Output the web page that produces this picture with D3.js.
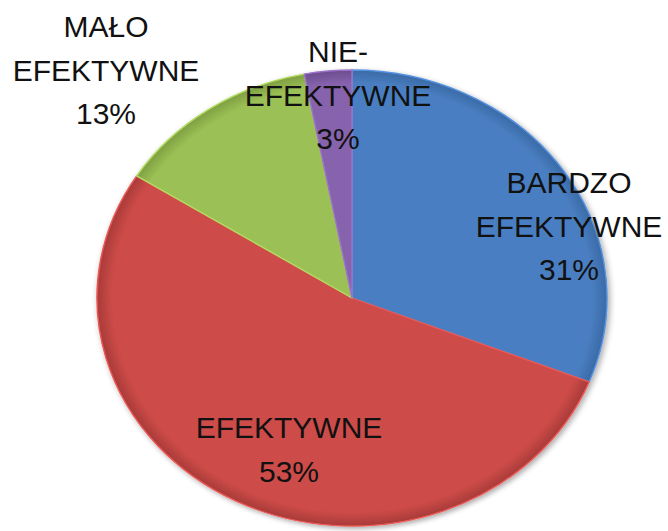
<!DOCTYPE html>
<html>
<head>
<meta charset="utf-8">
<script src="https://cdn.jsdelivr.net/npm/d3@7"></script>
<style>
    body { margin: 0; background: #fff; }
    svg { display: block; }
</style>
</head>
<body>
<div class="canvas"></div>
<script>
// DATA
const categories = ['BARDZO EFEKTYWNE', 'EFEKTYWNE', 'MAŁO EFEKTYWNE', 'NIE-EFEKTYWNE'];
const values = [31, 53, 13, 3];
const labelLines = [['BARDZO', 'EFEKTYWNE', '31%'], ['EFEKTYWNE', '53%'], ['MAŁO', 'EFEKTYWNE', '13%'], ['NIE-', 'EFEKTYWNE', '3%']];

// layout
const width = 668, height = 531;
const cx = 352, cy = 298;
const rx = 255, ry = 228;
const colors = ['#4a7fc2', '#cd4b48', '#9bc054', '#8763ad'];
const rims = ['#3a6aa6', '#a83b39', '#7f9f42', '#6b4d8e'];
// label block centres (x, first baseline)
const labelAt = [[569, 193], [289, 438], [106, 37], [338, 62]];

const canvas = d3.select('.canvas');
const svg = canvas.append('svg')
    .attr('width', width)
    .attr('height', height);

const defs = svg.append('defs');
const shadow = defs.append('filter').attr('id', 'shadow')
    .attr('x', '-10%').attr('y', '-10%').attr('width', '120%').attr('height', '120%');
shadow.append('feGaussianBlur').attr('in', 'SourceAlpha').attr('stdDeviation', 3);
shadow.append('feOffset').attr('dx', 2).attr('dy', 2).attr('result', 'b');
shadow.append('feComponentTransfer').append('feFuncA').attr('type', 'linear').attr('slope', 0.35);
const merge = shadow.append('feMerge');
merge.append('feMergeNode');
merge.append('feMergeNode').attr('in', 'SourceGraphic');

colors.forEach((c, i) => {
    const g = defs.append('radialGradient').attr('id', `grad${i}`)
        .attr('gradientUnits', 'userSpaceOnUse')
        .attr('cx', 0).attr('cy', 0).attr('r', rx);
    g.append('stop').attr('offset', '0%').attr('stop-color', c);
    g.append('stop').attr('offset', '94%').attr('stop-color', c);
    g.append('stop').attr('offset', '100%').attr('stop-color', rims[i]);
});

const pie = d3.pie().sort(null).value(d => d);
const arcs = pie(values);
const arc = d3.arc().innerRadius(0).outerRadius(rx);

const pieGroup = svg.append('g')
    .attr('transform', `translate(${cx},${cy}) scale(1,${ry / rx})`)
    .attr('filter', 'url(#shadow)');

pieGroup.selectAll('path')
    .data(arcs)
    .enter()
    .append('path')
    .attr('d', arc)
    .attr('fill', (d, i) => `url(#grad${i})`)
    .attr('stroke', (d, i) => d3.color(colors[i]).brighter(0.4))
    .attr('stroke-width', 1.5)
    .attr('stroke-linejoin', 'round');

// LABELS
labelLines.forEach((lines, i) => {
    const t = svg.append('text')
        .attr('x', labelAt[i][0])
        .attr('y', labelAt[i][1])
        .attr('text-anchor', 'middle')
        .attr('fill', '#111')
        .style('font-family', '"Liberation Sans", Arial, sans-serif')
        .style('font-size', '30px');
    lines.forEach((s, j) => {
        t.append('tspan')
            .attr('x', labelAt[i][0])
            .attr('dy', j === 0 ? 0 : 43.5)
            .text(s);
    });
});
</script>
</body>
</html>
